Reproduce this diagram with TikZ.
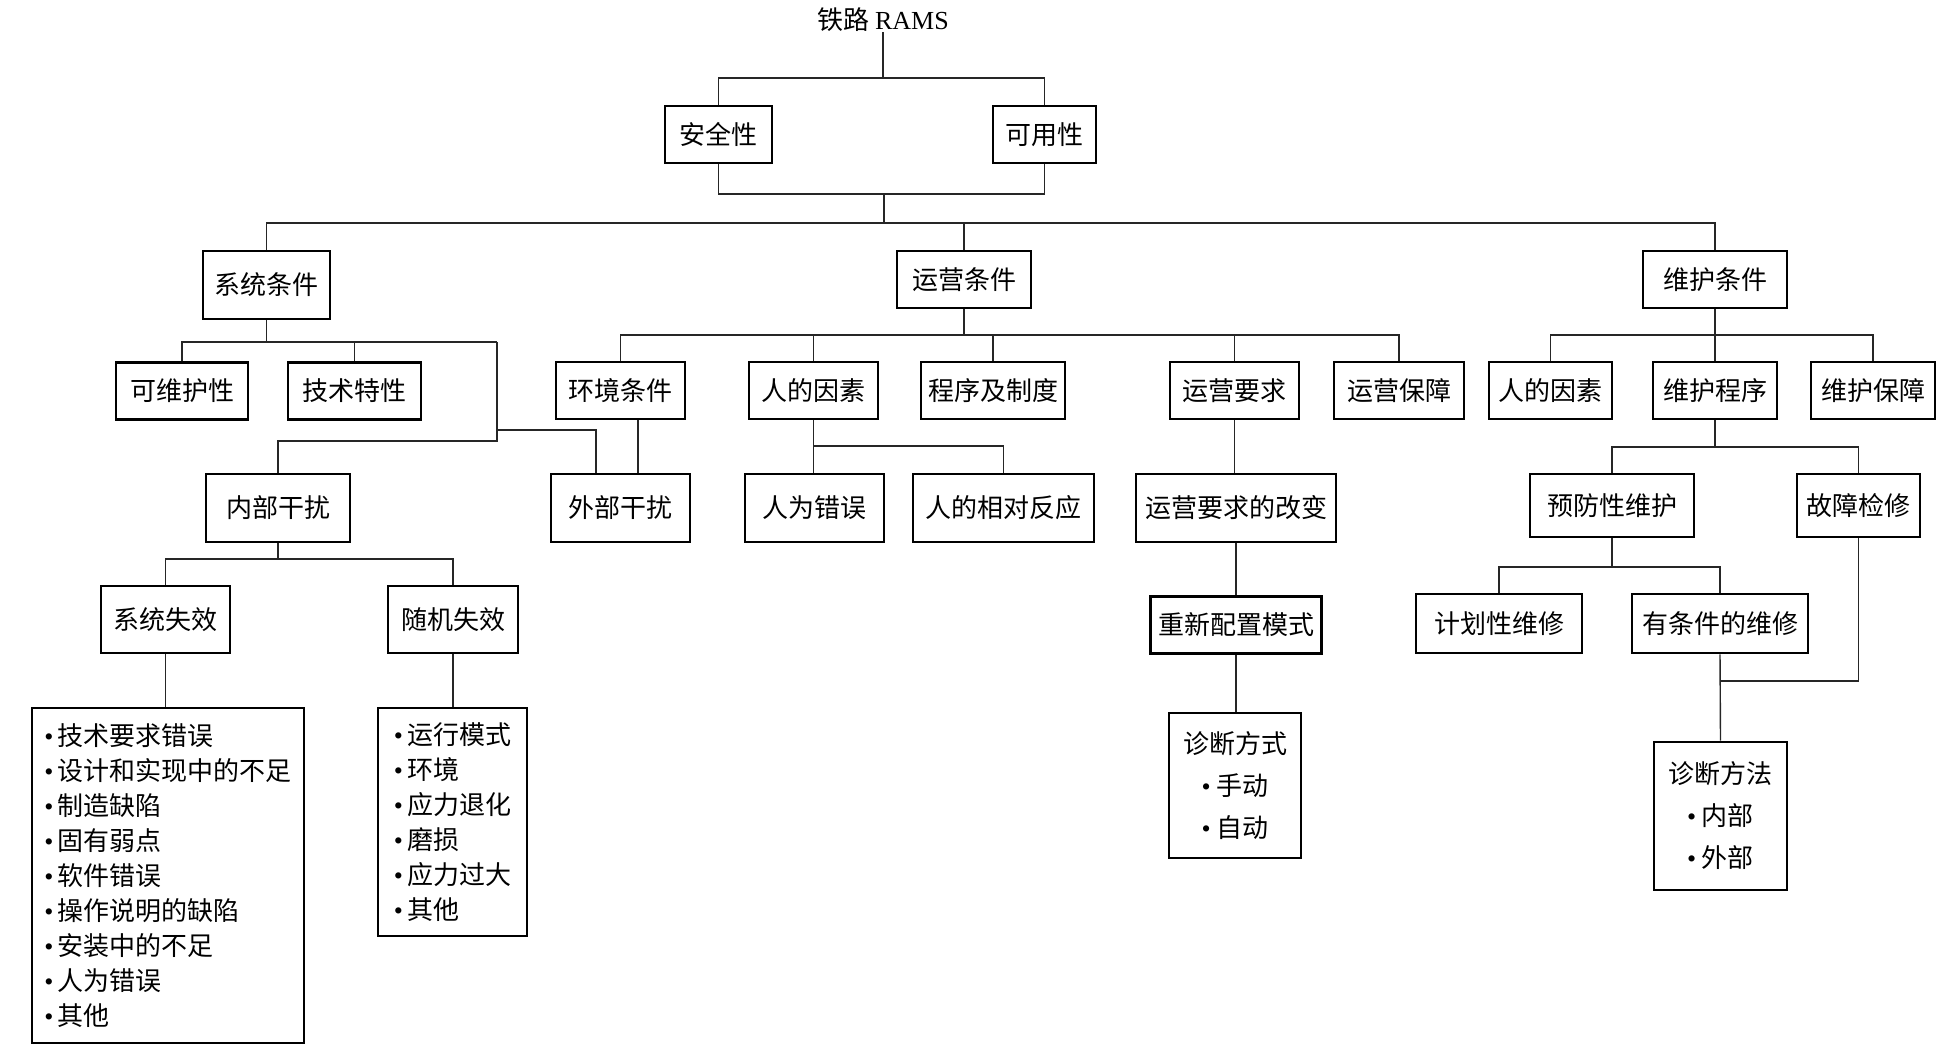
\documentclass[tikz,border=0pt]{standalone}
\usepackage{fontspec}
\setmainfont{Liberation Serif}
\newfontfamily\cjk{Noto Sans CJK SC}
\usepackage{tikz}
\usetikzlibrary{positioning, calc}
\newcommand{\lbul}{{\rmfamily\textbullet}}

\begin{document}
\begin{tikzpicture}[
    x=0.5pt, y=-0.5pt,
    every node/.style={font=\cjk\fontsize{13}{16}\selectfont, inner sep=0pt, align=center},
    cbox/.style={rectangle, draw=black, line width=1.3pt, fill=white, minimum height=28.5pt, text centered},
    listbox/.style={rectangle, draw=black, line width=1.3pt, fill=white, align=left, font=\cjk\fontsize{13}{17.5}\selectfont},
    link/.style={draw=black!85, line width=0.7pt}
]
\useasboundingbox (0,0) rectangle (1960,1051);

% Top of the tree
\node (rams) at (883,20) {铁路 {\rmfamily RAMS}};
\node[cbox, minimum width=53.5pt] (safe) at (718.5,134.5) {安全性};
\node[cbox, minimum width=51.5pt] (avail) at (1044.5,134.5) {可用性};

% Conditions
\node[cbox, minimum width=63.5pt, minimum height=34pt] (sys) at (266.5,285) {系统条件};
\node[cbox, minimum width=67pt] (ops) at (964,279.5) {运营条件};
\node[cbox, minimum width=72pt] (mnt) at (1715,279.5) {维护条件};

% Second row
\node[cbox, minimum width=66pt] (maint) at (182,391) {可维护性};
\node[cbox, minimum width=66.5pt] (tech) at (354.5,391) {技术特性};
\node[cbox, minimum width=64.5pt] (env) at (620.5,390.5) {环境条件};
\node[cbox, minimum width=64.5pt] (human) at (813.5,390.5) {人的因素};
\node[cbox, minimum width=72pt] (proc) at (993,390.5) {程序及制度};
\node[cbox, minimum width=64.5pt] (opreq) at (1234.5,390.5) {运营要求};
\node[cbox, minimum width=65pt] (opsup) at (1399,390.5) {运营保障};
\node[cbox, minimum width=61.5pt] (mhuman) at (1550.5,390.5) {人的因素};
\node[cbox, minimum width=62pt] (mproc) at (1715,390.5) {维护程序};
\node[cbox, minimum width=62pt] (msup) at (1873,390.5) {维护保障};

% Third row
\node[cbox, minimum width=72pt, minimum height=34pt] (inner) at (278,508) {内部干扰};
\node[cbox, minimum width=69.5pt, minimum height=34pt] (outer) at (620.5,508) {外部干扰};
\node[cbox, minimum width=69.5pt, minimum height=34pt] (err) at (814.5,508) {人为错误};
\node[cbox, minimum width=90.5pt, minimum height=34pt] (react) at (1003.5,508) {人的相对反应};
\node[cbox, minimum width=100pt, minimum height=34pt] (opchg) at (1236,508) {运营要求的改变};
\node[cbox, minimum width=82pt, minimum height=31.5pt] (prev) at (1612,505.5) {预防性维护};
\node[cbox, minimum width=61.5pt, minimum height=31.5pt] (fault) at (1858.5,505.5) {故障检修};

% Fourth row
\node[cbox, minimum width=64.5pt, minimum height=33.5pt] (sysf) at (165.5,619.5) {系统失效};
\node[cbox, minimum width=65pt, minimum height=33.5pt] (randf) at (453,619.5) {随机失效};
\node[cbox, minimum width=85.5pt] (reconf) at (1236,625) {重新配置模式};
\node[cbox, minimum width=83pt, minimum height=29.5pt] (plan) at (1499,623.5) {计划性维修};
\node[cbox, minimum width=88pt, minimum height=29.5pt] (cond) at (1720,623.5) {有条件的维修};

% Lists
\node[listbox, minimum width=136pt, minimum height=167.5pt] (flist) at (168,875.5)
  {\lbul\,技术要求错误\\\lbul\,设计和实现中的不足\\\lbul\,制造缺陷\\\lbul\,固有弱点\\\lbul\,软件错误\\\lbul\,操作说明的缺陷\\\lbul\,安装中的不足\\\lbul\,人为错误\\\lbul\,其他};
\node[listbox, minimum width=74.5pt, minimum height=114pt] (rlist) at (452.5,822)
  {\lbul\,运行模式\\\lbul\,环境\\\lbul\,应力退化\\\lbul\,磨损\\\lbul\,应力过大\\\lbul\,其他};
\node[cbox, minimum width=66pt, minimum height=72.5pt, font=\cjk\fontsize{13}{21}\selectfont] (diagway) at (1235,785.5)
  {诊断方式\\\lbul\ 手动\\\lbul\ 自动};
\node[cbox, minimum width=66.5pt, minimum height=74pt, font=\cjk\fontsize{13}{21}\selectfont] (diagmeth) at (1720.5,816)
  {诊断方法\\\lbul\ 内部\\\lbul\ 外部};

% Bus points
\coordinate (b0) at (880,78);
\coordinate (b1) at (884,194);
\coordinate (b2) at (884,223);
\coordinate (b3) at (497,342);
\coordinate (b5) at (497,430);
\coordinate (b4) at (497,441);
\coordinate (b6) at (964,335);
\coordinate (b7) at (814,446);
\coordinate (b8) at (1715,335);
\coordinate (b9) at (1715,447);
\coordinate (b10) at (1612,567);
\coordinate (b11) at (1720,681);
\coordinate (b12) at (278,559);

% Connectors
\draw[link] (rams.south) -- (rams.south |- b0);
\draw[link] (safe.north) |- (b0) -| (avail.north);
\draw[link] (safe.south) |- (b1) -| (avail.south);
\draw[link] (b1) -- (b2);
\draw[link] (sys.north) |- (b2) -| (mnt.north);
\draw[link] (ops.north) -- (ops.north |- b2);

\draw[link] (sys.south) -- (sys.south |- b3);
\draw[link] (maint.north) |- (b3);
\draw[link] (tech.north) -- (tech.north |- b3);
\draw[link] (b3) -- (b4) -| (inner.north);
\draw[link] (b5) -| ([xshift=-12.25pt]outer.north);

\draw[link] (ops.south) -- (b6);
\draw[link] (env.north) |- (b6) -| (opsup.north);
\draw[link] (human.north) -- (human.north |- b6);
\draw[link] (proc.north) -- (proc.north |- b6);
\draw[link] (opreq.north) -- (opreq.north |- b6);
\draw[link] ([xshift=8.75pt]env.south) -- ([xshift=8.75pt]env.south |- outer.north);

\draw[link] (human.south) -- (human.south |- err.north);
\draw[link] (b7) -| (react.north);

\draw[link] (opreq.south) -- (opreq.south |- opchg.north);
\draw[link] (opchg.south) -- (reconf.north);
\draw[link] (reconf.south) -- (reconf.south |- diagway.north);

\draw[link] (mnt.south) -- (mproc.north);
\draw[link] (mhuman.north) |- (b8) -| (msup.north);
\draw[link] (mproc.south) -- (b9);
\draw[link] (prev.north) |- (b9) -| (fault.north);
\draw[link] (prev.south) -- (b10);
\draw[link] (plan.north) |- (b10) -| (cond.north);
\draw[link] (fault.south) |- (b11);
\draw[link] (cond.south) -- (diagmeth.north);

\draw[link] (inner.south) -- (b12);
\draw[link] (sysf.north) |- (b12) -| (randf.north);
\draw[link] (sysf.south) -- (sysf.south |- flist.north);
\draw[link] (randf.south) -- (randf.south |- rlist.north);

\end{tikzpicture}
\end{document}
